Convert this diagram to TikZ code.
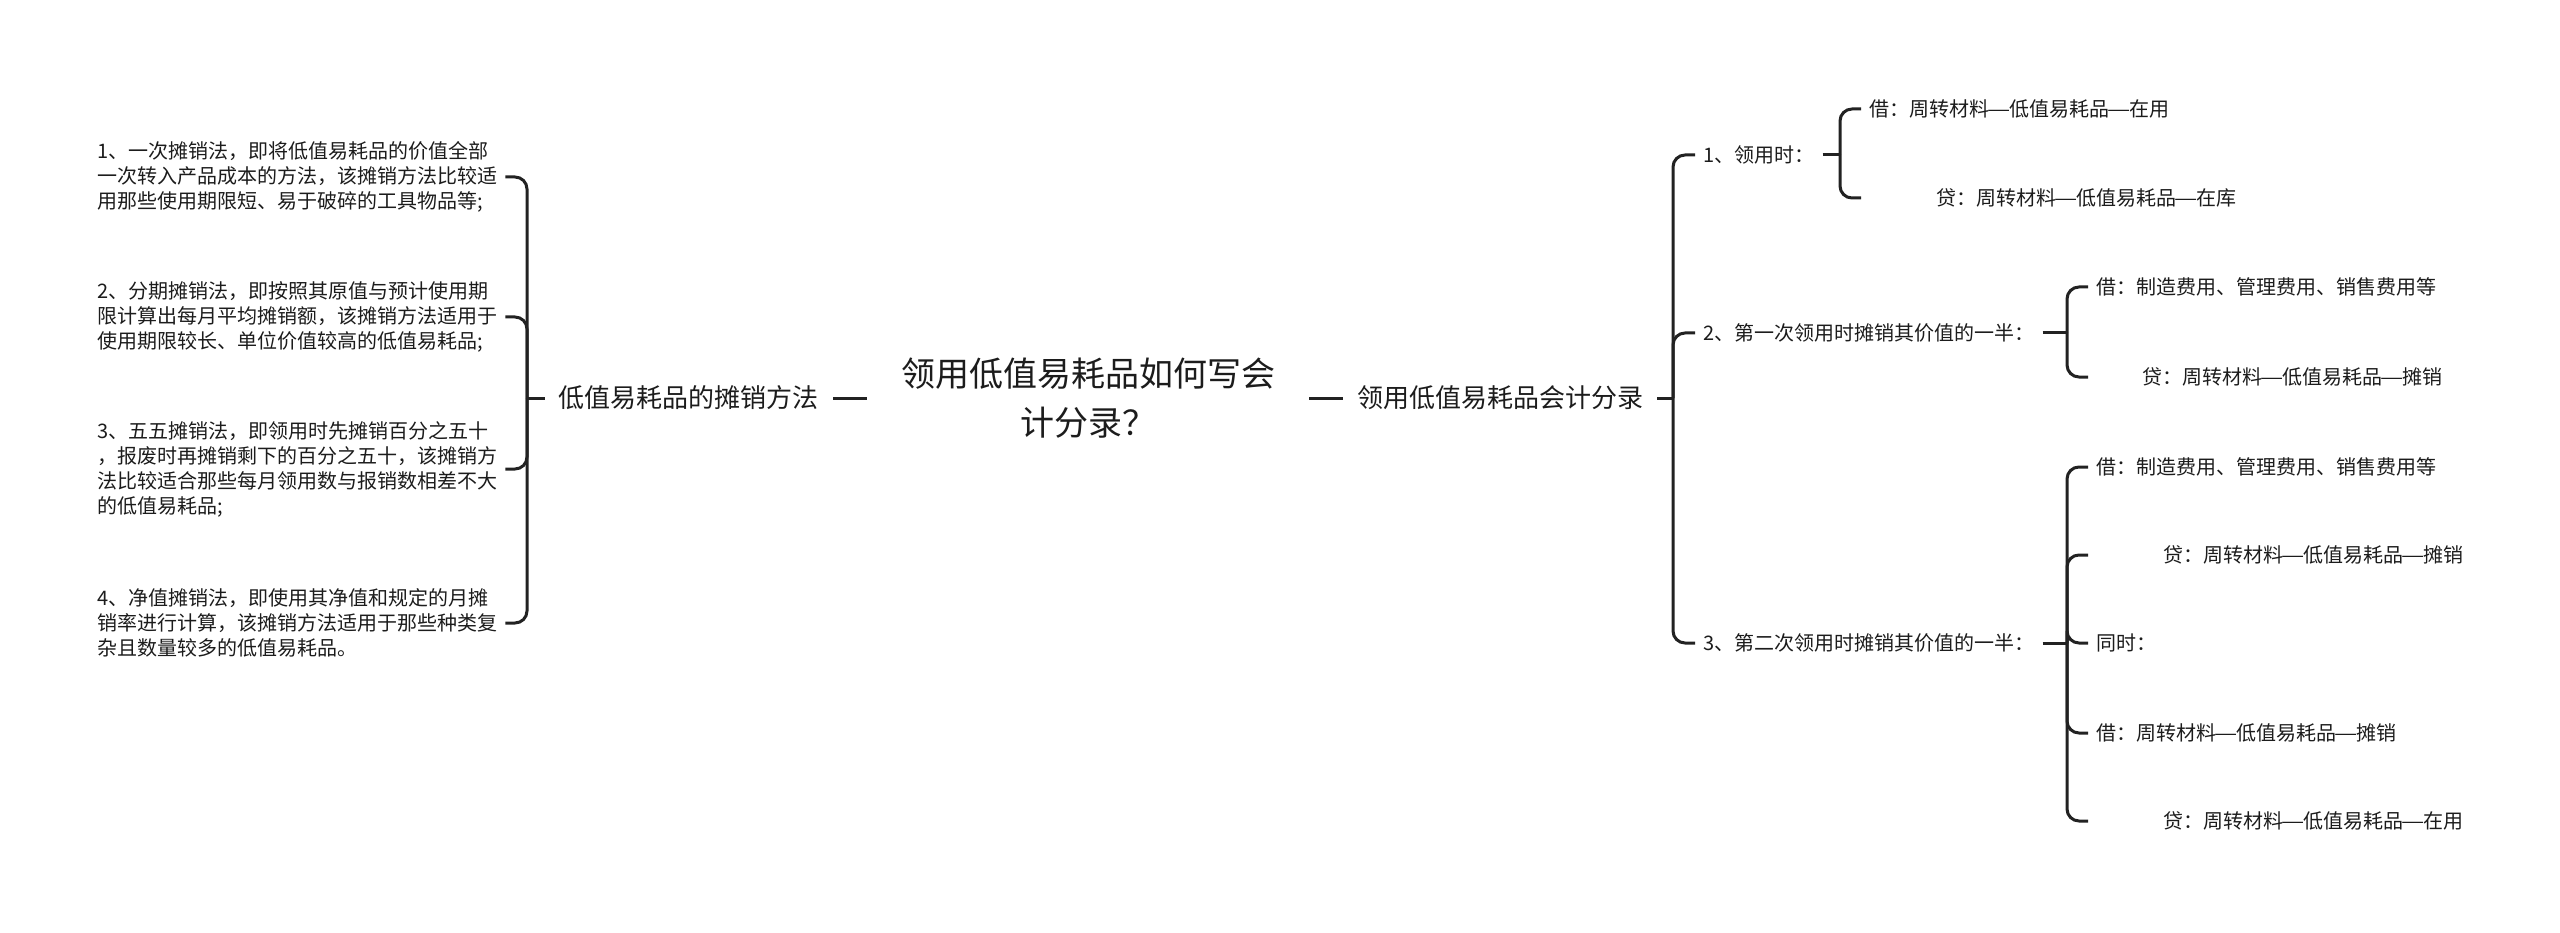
\documentclass[tikz,border=0pt]{standalone}
\usepackage{fontspec}
\setmainfont{Noto Sans CJK SC}
\usepackage{xcolor}
\usepackage{graphicx}
\usepackage{tikz}
\usetikzlibrary{positioning}
\definecolor{ink}{HTML}{1C1C1C}
\definecolor{rule}{HTML}{222222}
\newcommand{\itemfont}{\fontsize{20}{25}\selectfont}
\newcommand{\midfont}{\fontsize{26}{30}\selectfont}
\newcommand{\titlefont}{\fontsize{34}{49}\selectfont}
\newcommand{\zhdash}{\makebox[1em]{\scalebox{1.3}[1]{—}}}
\tikzset{
  leaf/.style={anchor=west,inner xsep=8pt,inner ysep=3pt,font=\itemfont,text=ink},
  summary/.style={inner xsep=14pt,inner ysep=4pt,font=\midfont,text=ink},
  title/.style={align=center,inner xsep=34pt,inner ysep=4pt,font=\titlefont,text=ink},
  branch/.style={draw=rule,line width=3pt,rounded corners=12pt},
}

\begin{document}
\begin{tikzpicture}[x=1pt,y=-1pt]
  \useasboundingbox (0,0) rectangle (2560,933);
  %% root and the two main topics
  \node[title] (root) at (1088,398) {领用低值易耗品如何写会\\计分录？};
  \node[summary,anchor=east] (lsum) at (833,398) {低值易耗品的摊销方法};
  \node[summary,anchor=west] (rsum) at (1343,398) {领用低值易耗品会计分录};
  \draw[branch] (lsum.east) -- (root.west);
  \draw[branch] (root.east) -- (rsum.west);
  \coordinate (lj) at (527,398);
  \coordinate (rj) at (1673,398);
  \draw[branch] (lsum.west) -- (lj);
  \draw[branch] (rsum.east) -- (rj);
  %% left: the four methods
  \node[leaf,align=left] (l1) at (89,177) {1、一次摊销法，即将低值易耗品的价值全部\\一次转入产品成本的方法，该摊销方法比较适\\用那些使用期限短、易于破碎的工具物品等;};
  \node[leaf,align=left] (l2) at (89,317) {2、分期摊销法，即按照其原值与预计使用期\\限计算出每月平均摊销额，该摊销方法适用于\\使用期限较长、单位价值较高的低值易耗品;};
  \node[leaf,align=left] (l3) at (89,469) {3、五五摊销法，即领用时先摊销百分之五十\\，报废时再摊销剩下的百分之五十，该摊销方\\法比较适合那些每月领用数与报销数相差不大\\的低值易耗品;};
  \node[leaf,align=left] (l4) at (89,623) {4、净值摊销法，即使用其净值和规定的月摊\\销率进行计算，该摊销方法适用于那些种类复\\杂且数量较多的低值易耗品。};
  \foreach \n in {l1,l2,l3,l4}
    \draw[branch] (lj) |- (\n.east);
  %% right: the entries
  \node[leaf] (r1) at (1695,155) {1、领用时：};
  \node[leaf] (r2) at (1695,333) {2、第一次领用时摊销其价值的一半：};
  \node[leaf] (r3) at (1695,643) {3、第二次领用时摊销其价值的一半：};
  \foreach \n in {r1,r2,r3}
    \draw[branch] (rj) |- (\n.west);
  \coordinate (g1j) at (1840,155);
  \coordinate (g2j) at (2067,333);
  \coordinate (g3j) at (2067,643);
  \draw[branch] (r1.east) -- (g1j);
  \draw[branch] (r2.east) -- (g2j);
  \draw[branch] (r3.east) -- (g3j);
  \node[leaf] (g1a) at (1861,109) {借：周转材料\zhdash 低值易耗品\zhdash 在用};
  \node[leaf] (g1b) at (1861,198) {\hspace*{67pt}贷：周转材料\zhdash 低值易耗品\zhdash 在库};
  \node[leaf] (g2a) at (2088,287) {借：制造费用、管理费用、销售费用等};
  \node[leaf] (g2b) at (2088,377) {\hspace*{46pt}贷：周转材料\zhdash 低值易耗品\zhdash 摊销};
  \node[leaf] (g3a) at (2088,467) {借：制造费用、管理费用、销售费用等};
  \node[leaf] (g3b) at (2088,555) {\hspace*{67pt}贷：周转材料\zhdash 低值易耗品\zhdash 摊销};
  \node[leaf] (g3c) at (2088,643) {同时：};
  \node[leaf] (g3d) at (2088,733) {借：周转材料\zhdash 低值易耗品\zhdash 摊销};
  \node[leaf] (g3e) at (2088,821) {\hspace*{67pt}贷：周转材料\zhdash 低值易耗品\zhdash 在用};
  \foreach \j/\n in {g1j/g1a,g1j/g1b,g2j/g2a,g2j/g2b,g3j/g3a,g3j/g3b,g3j/g3c,g3j/g3d,g3j/g3e}
    \draw[branch] (\j) |- (\n.west);
\end{tikzpicture}
\end{document}
